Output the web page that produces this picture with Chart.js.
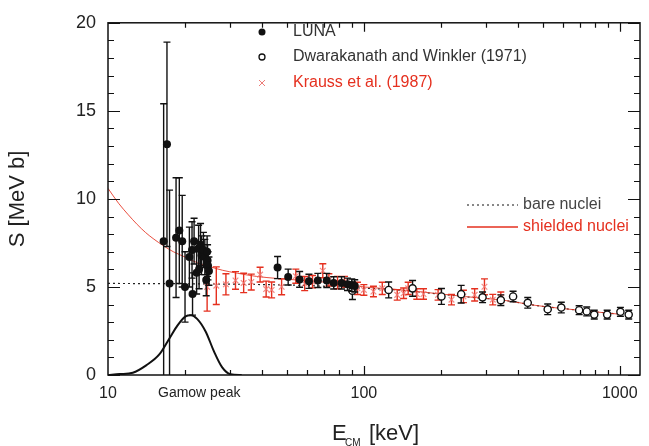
<!DOCTYPE html>
<html>
<head>
<meta charset="utf-8">
<script src="https://cdn.jsdelivr.net/npm/chart.js@4.4.1/dist/chart.umd.min.js"></script>
<style>
  html, body { margin: 0; padding: 0; background: #fff; }
  #wrap { width: 649px; height: 446px; }
</style>
</head>
<body>
<div id="wrap"><canvas id="c" width="649" height="446"></canvas></div>
<script>
// LUNA (filled dots)
const lunaE   = [16.5, 17.0, 17.4, 18.45, 19.0, 19.5, 20.0, 20.8, 21.3, 21.4, 21.7, 22.2, 22.6, 22.7, 23.0, 23.2, 23.6, 23.9, 24.2, 24.4, 24.5, 24.6, 24.8, 46, 50.6, 56.1, 61, 66.1, 71.6, 76.2, 81.8, 86.3, 89.7, 92.1];
const lunaS   = [7.6, 13.1, 5.2, 7.8, 8.2, 7.6, 5.0, 6.7, 7.1, 4.6, 7.6, 5.8, 7.2, 6.0, 7.4, 6.8, 7.1, 6.7, 5.4, 7.0, 6.5, 6.2, 5.9, 6.1, 5.56, 5.43, 5.32, 5.37, 5.37, 5.23, 5.23, 5.15, 5.10, 5.06];
const lunaErr = [7.8, 5.8, 5.3, 3.4, 3.0, 2.6, 2.0, 1.7, 1.6, 1.2, 1.3, 1.2, 1.3, 1.1, 1.2, 1.1, 1.0, 1.0, 0.9, 0.9, 0.9, 0.8, 0.8, 0.63, 0.45, 0.45, 0.4, 0.4, 0.4, 0.35, 0.35, 0.35, 0.35, 0.35];

// Dwarakanath and Winkler (1971) (open circles)
const dwE   = [90.2, 125, 155, 201, 240, 291, 343, 383, 437, 523, 591, 694, 743, 795, 893, 1006, 1084];
const dwS   = [4.79, 4.83, 4.92, 4.46, 4.59, 4.41, 4.25, 4.46, 4.10, 3.73, 3.83, 3.68, 3.61, 3.43, 3.43, 3.59, 3.43];
const dwErr = [0.5, 0.45, 0.45, 0.45, 0.5, 0.3, 0.3, 0.3, 0.3, 0.3, 0.3, 0.25, 0.25, 0.25, 0.25, 0.25, 0.25];

// Krauss et al. (1987) (red crosses)
const krE   = [24.4, 26.5, 28.9, 31.5, 33.9, 36.3, 39.3, 41.5, 43.6, 47.7, 54.2, 58.7, 63, 69.1, 73, 78.9, 84, 94.4, 100, 109, 118, 135, 143, 149, 161, 171, 195, 220, 245, 271, 296, 319, 343];
const krS   = [5.0, 5.07, 5.15, 5.37, 5.23, 5.28, 5.7, 4.88, 4.83, 5.01, 5.61, 5.19, 5.3, 5.92, 5.4, 5.25, 5.3, 4.92, 4.83, 4.74, 4.92, 4.55, 4.64, 4.92, 4.60, 4.60, 4.55, 4.28, 4.46, 4.55, 5.01, 4.28, 4.41];
const krErr = [1.37, 1.07, 0.6, 0.5, 0.55, 0.45, 0.42, 0.45, 0.45, 0.45, 0.4, 0.4, 0.35, 0.4, 0.35, 0.35, 0.3, 0.35, 0.3, 0.3, 0.35, 0.3, 0.3, 0.35, 0.3, 0.3, 0.3, 0.3, 0.35, 0.35, 0.45, 0.3, 0.3];

// curves
const shieldE = [10, 11, 12, 13, 14, 15, 16.5, 18, 20, 22.5, 25, 28, 32, 38, 46, 60, 80, 100, 130, 160, 200, 250, 350, 470, 670, 850, 1000];
const shieldS = [10.6, 9.75, 9.1, 8.55, 8.1, 7.75, 7.33, 7.0, 6.7, 6.35, 6.15, 5.95, 5.78, 5.6, 5.48, 5.35, 5.2, 5.0, 4.88, 4.75, 4.6, 4.45, 4.25, 3.95, 3.7, 3.55, 3.45];
const bareE = [10, 20, 30, 46, 60, 80, 100, 130, 160, 200, 250, 350, 470, 670, 850, 1000];
const bareS = [5.2, 5.18, 5.16, 5.12, 5.08, 5.0, 4.93, 4.85, 4.73, 4.59, 4.44, 4.25, 3.95, 3.7, 3.55, 3.45];
const gamowE = [10, 11.1, 12.5, 14.1, 15.9, 17.4, 18.7, 20.1, 21.1, 22.3, 24.1, 25.9, 27.9, 30.1, 33.3];
const gamowY = [0, 0.05, 0.13, 0.55, 1.18, 2.09, 2.82, 3.33, 3.40, 3.19, 2.46, 1.37, 0.45, 0.05, 0.0];

const xLabels = [10, 100, 1000];
const yLabels = [0, 5, 10, 15, 20];

const FONT = "'Liberation Sans', Arial, Helvetica, sans-serif";
const RED = '#e5301f';
const pts = (xs, ys) => xs.map((v, i) => ({ x: v, y: ys[i] }));
const isNice = v => {
  const m = v / Math.pow(10, Math.floor(Math.log10(v) + 1e-9));
  return Math.abs(m - Math.round(m)) < 1e-6;
};

// vertical error bars with caps, drawn just under each dataset's markers
const errorBars = {
  id: 'errorBars',
  beforeDatasetDraw(chart, args) {
    const ds = chart.data.datasets[args.index];
    if (!ds.errors) return;
    const { ctx, chartArea: a, scales: { x, y } } = chart;
    ctx.save();
    ctx.beginPath();
    ctx.rect(a.left, a.top, a.width, a.height);
    ctx.clip();
    ctx.strokeStyle = ds.errorColor;
    ctx.lineWidth = 1.4;
    ds.data.forEach((p, i) => {
      const px = x.getPixelForValue(p.x);
      const t = y.getPixelForValue(p.y + ds.errors[i]);
      const b = y.getPixelForValue(p.y - ds.errors[i]);
      ctx.beginPath();
      ctx.moveTo(px, t); ctx.lineTo(px, b);
      ctx.moveTo(px - 3.5, t); ctx.lineTo(px + 3.5, t);
      ctx.moveTo(px - 3.5, b); ctx.lineTo(px + 3.5, b);
      ctx.stroke();
    });
    ctx.restore();
  }
};

// box frame with inward ticks, labels and the two legends
const frame = {
  id: 'frame',
  afterDraw(chart) {
    const { ctx, chartArea: a, scales: { x, y } } = chart;
    ctx.save();
    ctx.strokeStyle = '#111';
    ctx.lineWidth = 1.5;
    ctx.strokeRect(a.left, a.top, a.right - a.left, a.bottom - a.top);
    ctx.lineWidth = 1.2;
    ctx.beginPath();
    y.ticks.forEach(t => {
      const py = Math.round(y.getPixelForValue(t.value)) + 0.5;
      const len = t.value % 5 === 0 ? 12 : 6;
      ctx.moveTo(a.left, py); ctx.lineTo(a.left + len, py);
      ctx.moveTo(a.right, py); ctx.lineTo(a.right - len, py);
    });
    x.ticks.forEach(t => {
      if (!isNice(t.value) || t.value <= x.min || t.value >= x.max) return;
      const px = Math.round(x.getPixelForValue(t.value)) + 0.5;
      const len = xLabels.includes(t.value) ? 9 : 5;
      ctx.moveTo(px, a.bottom); ctx.lineTo(px, a.bottom - len);
      ctx.moveTo(px, a.top); ctx.lineTo(px, a.top + len);
    });
    ctx.stroke();

    ctx.fillStyle = '#222';
    ctx.font = '14px ' + FONT;
    ctx.textAlign = 'left';
    ctx.textBaseline = 'alphabetic';
    ctx.fillText('Gamow peak', 158, 397);

    // x title, E with CM subscript
    ctx.font = '22px ' + FONT;
    ctx.fillText('E', 332, 440);
    ctx.font = '10px ' + FONT;
    ctx.fillText('CM', 345, 446);
    ctx.font = '22px ' + FONT;
    ctx.fillText('[keV]', 369, 440);

    // top legend
    ctx.font = '16px ' + FONT;
    ctx.textBaseline = 'middle';
    ctx.fillStyle = '#111';
    ctx.beginPath(); ctx.arc(262, 32, 3.5, 0, Math.PI * 2); ctx.fill();
    ctx.fillStyle = '#333';
    ctx.fillText('LUNA', 293, 32);
    ctx.strokeStyle = '#111';
    ctx.lineWidth = 1.3;
    ctx.beginPath(); ctx.arc(262, 57, 3, 0, Math.PI * 2); ctx.stroke();
    ctx.fillText('Dwarakanath and Winkler (1971)', 293, 57);
    ctx.strokeStyle = 'rgba(235,110,105,0.9)';
    ctx.lineWidth = 1;
    ctx.beginPath();
    ctx.moveTo(259, 80); ctx.lineTo(265, 86);
    ctx.moveTo(265, 80); ctx.lineTo(259, 86);
    ctx.stroke();
    ctx.fillStyle = RED;
    ctx.fillText('Krauss et al. (1987)', 293, 83);

    // right legend
    ctx.strokeStyle = '#111';
    ctx.setLineDash([2, 3]);
    ctx.beginPath(); ctx.moveTo(467, 205); ctx.lineTo(518, 205); ctx.stroke();
    ctx.setLineDash([]);
    ctx.fillStyle = '#444';
    ctx.fillText('bare nuclei', 523, 205);
    ctx.strokeStyle = RED;
    ctx.lineWidth = 1.3;
    ctx.beginPath(); ctx.moveTo(467, 227); ctx.lineTo(518, 227); ctx.stroke();
    ctx.fillStyle = RED;
    ctx.fillText('shielded nuclei', 523, 227);
    ctx.restore();
  }
};

new Chart(document.getElementById('c'), {
  type: 'scatter',
  data: {
    datasets: [
      { label: 'LUNA', order: 0, data: pts(lunaE, lunaS), errors: lunaErr, errorColor: '#111',
        pointStyle: 'circle', pointRadius: 4, backgroundColor: '#111', borderColor: '#111', borderWidth: 0 },
      { label: 'Dwarakanath and Winkler (1971)', order: 1, data: pts(dwE, dwS), errors: dwErr, errorColor: '#111',
        pointStyle: 'circle', pointRadius: 3.6, backgroundColor: '#fff', borderColor: '#111', borderWidth: 1.4 },
      { label: 'Krauss et al. (1987)', order: 2, data: pts(krE, krS), errors: krErr, errorColor: RED,
        pointStyle: 'crossRot', pointRadius: 4, borderColor: 'rgba(240,120,115,0.85)', borderWidth: 1.2 },
      { label: 'shielded nuclei', order: 3, data: pts(shieldE, shieldS), showLine: true,
        borderColor: 'rgba(229,48,31,0.85)', borderWidth: 1, pointRadius: 0, cubicInterpolationMode: 'monotone' },
      { label: 'bare nuclei', order: 4, data: pts(bareE, bareS), showLine: true,
        borderColor: '#222', borderWidth: 1.2, borderDash: [2, 3], pointRadius: 0, cubicInterpolationMode: 'monotone' },
      { label: 'Gamow peak', order: 5, data: pts(gamowE, gamowY), showLine: true,
        borderColor: '#111', borderWidth: 2, pointRadius: 0, cubicInterpolationMode: 'monotone' },
    ]
  },
  options: {
    responsive: false,
    animation: false,
    layout: { padding: { top: 9, right: 3, left: 0, bottom: 0 } },
    plugins: { legend: { display: false }, tooltip: { enabled: false } },
    scales: {
      x: {
        type: 'logarithmic', min: 10, max: 1200,
        grid: { display: false, drawTicks: false }, border: { display: false },
        afterFit: s => { s.height = 71; },
        ticks: {
          autoSkip: false, maxRotation: 0, padding: 9, color: '#222',
          font: { family: FONT, size: 16 },
          callback: v => xLabels.includes(v) ? String(v) : ''
        }
      },
      y: {
        min: 0, max: 20,
        grid: { display: false, drawTicks: false }, border: { display: false },
        afterFit: s => { s.width = 108; },
        title: { display: true, text: 'S [MeV b]', color: '#222', padding: { top: 5, bottom: 0 },
                 font: { family: FONT, size: 22, lineHeight: 1.2 } },
        ticks: {
          stepSize: 1, autoSkip: false, padding: 12, color: '#222',
          font: { family: FONT, size: 18 },
          callback: v => yLabels.includes(v) ? String(v) : ''
        }
      }
    }
  },
  plugins: [errorBars, frame]
});
</script>
</body>
</html>
